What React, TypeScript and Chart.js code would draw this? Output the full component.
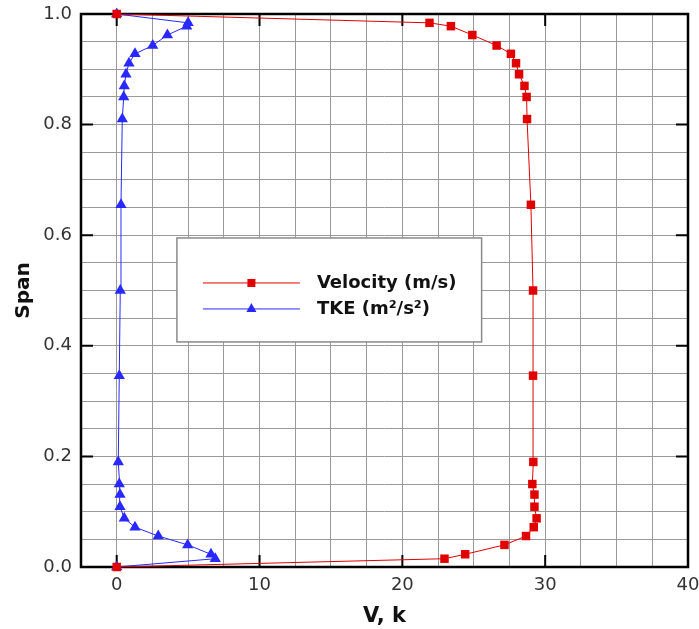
import React, { useEffect, useRef } from 'react';
import { Chart, registerables } from 'chart.js';
Chart.register(...registerables);

// Span positions (shared by both series)
const span = [0, 0.015, 0.023, 0.040, 0.056, 0.072, 0.088, 0.109, 0.131, 0.150, 0.190, 0.346, 0.500, 0.655, 0.810, 0.850, 0.870, 0.891, 0.911, 0.928, 0.943, 0.962, 0.978, 0.984, 1.0];
// Velocity (m/s)
const velocity = [0, 22.95, 24.4, 27.15, 28.66, 29.2, 29.4, 29.25, 29.25, 29.1, 29.17, 29.15, 29.15, 29.0, 28.73, 28.7, 28.55, 28.17, 27.96, 27.6, 26.6, 24.9, 23.4, 21.9, 0];
// TKE (m²/s²)
const tke = [0, 6.9, 6.6, 4.97, 2.91, 1.28, 0.53, 0.23, 0.23, 0.18, 0.11, 0.18, 0.25, 0.3, 0.39, 0.49, 0.53, 0.65, 0.86, 1.28, 2.52, 3.55, 4.9, 5.0, 0];

const xMajorTicks = [0, 10, 20, 30, 40];
const yMajorTicks = [0, 0.2, 0.4, 0.6, 0.8, 1.0];
const seriesLabels = ['Velocity (m/s)', 'TKE (m²/s²)'];
const xTitle = 'V, k';
const yTitle = 'Span';

const RED = 'rgb(225,0,0)';
const BLUE = 'rgb(40,40,255)';
const FONT = '"DejaVu Sans", sans-serif';

const frameplugin = {
  id: 'frame',
  beforeDatasetsDraw(chart: any) {
    const { ctx, chartArea: a, scales } = chart;
    ctx.save();
    ctx.strokeStyle = '#000';
    ctx.lineWidth = 2;
    ctx.beginPath();
    const tl = 12;
    xMajorTicks.forEach((v) => {
      const px = scales.x.getPixelForValue(v);
      if (px > a.left + 2 && px < a.right - 2) {
        ctx.moveTo(px, a.bottom);
        ctx.lineTo(px, a.bottom - tl);
        ctx.moveTo(px, a.top);
        ctx.lineTo(px, a.top + tl);
      }
    });
    yMajorTicks.forEach((v) => {
      const py = scales.y.getPixelForValue(v);
      if (py > a.top + 2 && py < a.bottom - 2) {
        ctx.moveTo(a.left, py);
        ctx.lineTo(a.left + tl, py);
        ctx.moveTo(a.right, py);
        ctx.lineTo(a.right - tl, py);
      }
    });
    ctx.stroke();
    ctx.lineWidth = 2.5;
    ctx.strokeRect(a.left, a.top, a.right - a.left, a.bottom - a.top);
    ctx.restore();
  },
};

const legendPlugin = {
  id: 'boxLegend',
  afterDatasetsDraw(chart: any) {
    const { ctx, chartArea: a } = chart;
    const w = a.right - a.left;
    const h = a.bottom - a.top;
    const left = a.left + 0.158 * w;
    const right = a.left + 0.66 * w;
    const top = a.top + 0.405 * h;
    const bottom = a.top + 0.593 * h;
    ctx.save();
    ctx.fillStyle = '#fff';
    ctx.fillRect(left, top, right - left, bottom - top);
    ctx.strokeStyle = '#8a8a8a';
    ctx.lineWidth = 1.5;
    ctx.strokeRect(left, top, right - left, bottom - top);

    const lx0 = left + 26;
    const lx1 = left + 123;
    const mx = (lx0 + lx1) / 2;
    const tx = left + 140;
    const rows = [
      { y: top + 45, color: RED, kind: 'rect', label: seriesLabels[0] },
      { y: top + 71, color: BLUE, kind: 'tri', label: seriesLabels[1] },
    ];
    rows.forEach((r) => {
      ctx.strokeStyle = r.color;
      ctx.lineWidth = 1;
      ctx.beginPath();
      ctx.moveTo(lx0, r.y);
      ctx.lineTo(lx1, r.y);
      ctx.stroke();
      ctx.fillStyle = r.color;
      if (r.kind === 'rect') {
        ctx.fillRect(mx - 4, r.y - 4, 8, 8);
      } else {
        ctx.beginPath();
        ctx.moveTo(mx, r.y - 6);
        ctx.lineTo(mx + 5, r.y + 3);
        ctx.lineTo(mx - 5, r.y + 3);
        ctx.closePath();
        ctx.fill();
      }
      ctx.fillStyle = '#111';
      ctx.font = `bold 18px ${FONT}`;
      ctx.textBaseline = 'middle';
      ctx.textAlign = 'left';
      ctx.fillText(r.label, tx, r.y);
    });
    ctx.restore();
  },
};

export default function App() {
  const ref = useRef<HTMLCanvasElement | null>(null);
  useEffect(() => {
    if (!ref.current) return;
    const chart = new Chart(ref.current, {
      type: 'line',
      data: {
        datasets: [
          {
            label: seriesLabels[0],
            data: span.map((s, i) => ({ x: velocity[i], y: s })),
            borderColor: RED,
            backgroundColor: RED,
            borderWidth: 1,
            pointStyle: 'rect',
            pointRadius: 6,
            pointBorderWidth: 0,
            tension: 0,
            clip: false as any,
          },
          {
            label: seriesLabels[1],
            data: span.map((s, i) => ({ x: tke[i], y: s })),
            borderColor: BLUE,
            backgroundColor: BLUE,
            borderWidth: 1,
            pointStyle: 'triangle',
            pointRadius: 6.5,
            pointBorderWidth: 0,
            tension: 0,
            clip: false as any,
          },
        ],
      },
      options: {
        animation: false,
        responsive: false,
        devicePixelRatio: 1,
        layout: { padding: { top: 14, right: 11, left: 0, bottom: 0 } },
        plugins: { legend: { display: false }, tooltip: { enabled: false } },
        scales: {
          x: {
            type: 'linear',
            min: -2.5,
            max: 40,
            afterFit: (s: any) => { s.height = 62; s.paddingLeft = 0; s.paddingRight = 0; },
            ticks: {
              stepSize: 2.5,
              autoSkip: false,
              maxRotation: 0,
              padding: 8,
              color: '#333',
              font: { family: FONT, size: 18 },
              callback: (v: any) => (Math.abs(v % 10) < 1e-6 ? String(v) : ''),
            },
            grid: { color: '#9a9a9a', lineWidth: 1, drawTicks: false },
            border: { display: false },
            title: {
              display: true,
              text: xTitle,
              color: '#111',
              font: { family: FONT, size: 21, weight: 'bold' },
              padding: { top: 7, bottom: 0 },
            },
          },
          y: {
            type: 'linear',
            min: 0,
            max: 1,
            afterFit: (s: any) => { s.width = 81; s.paddingTop = 0; s.paddingBottom = 0; },
            ticks: {
              stepSize: 0.05,
              autoSkip: false,
              padding: 9,
              color: '#333',
              font: { family: FONT, size: 18 },
              callback: (v: any) => (Math.round(v * 100) % 20 === 0 ? Number(v).toFixed(1) : ''),
            },
            grid: { color: '#9a9a9a', lineWidth: 1, drawTicks: false },
            border: { display: false },
            title: {
              display: true,
              text: yTitle,
              color: '#111',
              font: { family: FONT, size: 20, weight: 'bold' },
              padding: { top: 12, bottom: 0 },
            },
          },
        },
      },
      plugins: [frameplugin, legendPlugin],
    });
    return () => chart.destroy();
  }, []);
  return (
    <div style={{ position: 'absolute', left: 0, top: 0, width: 699, height: 629, background: '#fff' }}>
      <canvas ref={ref} width={699} height={629} />
    </div>
  );
}
